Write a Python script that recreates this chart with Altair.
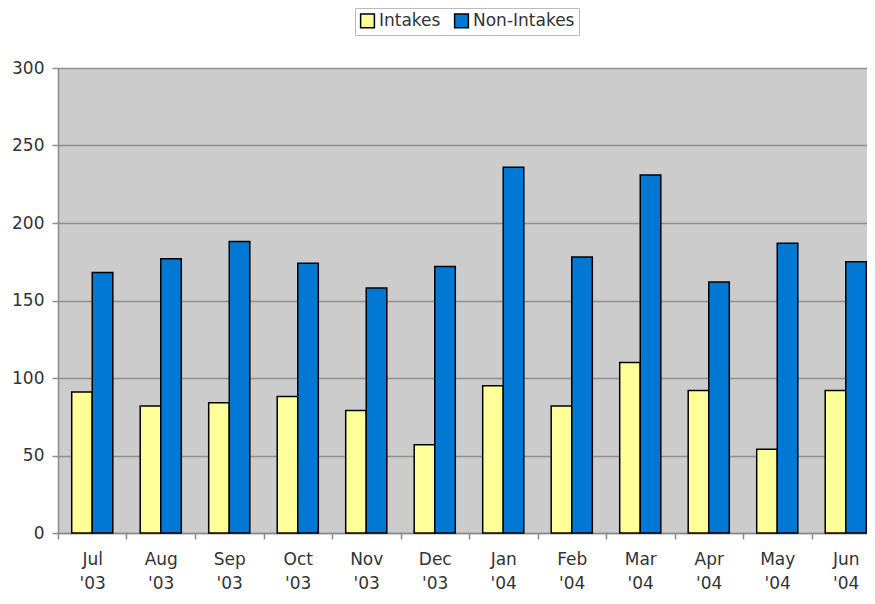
import altair as alt
import pandas as pd

months = ["Jul '03", "Aug '03", "Sep '03", "Oct '03", "Nov '03", "Dec '03",
          "Jan '04", "Feb '04", "Mar '04", "Apr '04", "May '04", "Jun '04"]
intakes = [91, 82, 84, 88, 79, 57, 95, 82, 110, 92, 54, 92]
non_intakes = [168, 177, 188, 174, 158, 172, 236, 178, 231, 162, 187, 175]
series = ["Intakes", "Non-Intakes"]
colors = ["#FFFF99", "#0078D4"]
y_ticks = [0, 50, 100, 150, 200, 250, 300]

rows = []
for m, a, b in zip(months, intakes, non_intakes):
    rows.append({"month": m, "series": "Intakes", "value": a})
    rows.append({"month": m, "series": "Non-Intakes", "value": b})
df = pd.DataFrame(rows)

FULL_W = 822
STEP = FULL_W / 12
FONT = "DejaVu Sans"

chart = alt.Chart(df).mark_bar(stroke="black", strokeWidth=1.5).encode(
    x=alt.X("month:N", sort=months,
            scale=alt.Scale(range=[0, FULL_W], paddingInner=0.4, paddingOuter=0.2),
            axis=alt.Axis(title=None, labelAngle=0,
                          labelExpr="split(datum.label, ' ')",
                          tickOffset=-STEP / 2, labelOffset=STEP / 2,
                          tickSize=6, tickColor="#8a8a8a", tickWidth=1.5,
                          domainColor="#8a8a8a", domainWidth=1.5,
                          labelPadding=12, labelLineHeight=24,
                          labelFont=FONT, labelFontSize=17, labelColor="#333333",
                          labelBaseline="top")),
    xOffset=alt.XOffset("series:N", sort=series,
                        scale=alt.Scale(paddingInner=0, paddingOuter=0)),
    y=alt.Y("value:Q", scale=alt.Scale(domain=[0, 300]),
            axis=alt.Axis(title=None, values=y_ticks, grid=True,
                          gridColor="#8f8f8f", gridWidth=1.5,
                          tickSize=6, tickColor="#8f8f8f", tickWidth=1.5,
                          domainColor="#8a8a8a", domainWidth=1.5,
                          labelPadding=8, labelFont=FONT, labelFontSize=17,
                          labelColor="#333333")),
    color=alt.Color("series:N", sort=series,
                    scale=alt.Scale(domain=series, range=colors),
                    legend=alt.Legend(title=None, orient="none", legendX=297, legendY=-60,
                                      direction="horizontal", fillColor="white",
                                      strokeColor="#bbbbbb", padding=4,
                                      labelFont=FONT, labelFontSize=17, labelColor="#333333",
                                      symbolType="square", symbolSize=190,
                                      symbolStrokeColor="black", symbolStrokeWidth=1.5,
                                      columnPadding=10, labelOffset=3)),
).properties(
    width=809, height=465,
    background="white",
    autosize=alt.AutoSizeParams(type="none"),
    padding={"left": 50, "top": 60, "right": 0, "bottom": 59},
).configure_view(
    fill="#CCCCCC", strokeWidth=0
)

chart.save("out.html", embed_options={"renderer": "svg", "actions": False})
